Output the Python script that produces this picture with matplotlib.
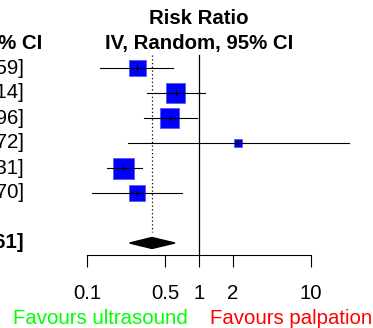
import numpy as np
import matplotlib
matplotlib.use('Agg')
import matplotlib.pyplot as plt

plt.rcParams['font.family'] = ['Liberation Sans', 'DejaVu Sans']

# study estimates (risk ratio, 95% CI) and weights (%)
est = [0.28, 0.62, 0.55, 2.23, 0.21, 0.28]
lower = [0.13, 0.34, 0.32, 0.23, 0.15, 0.11]
upper = [0.59, 1.14, 0.96, 21.72, 0.31, 0.70]
weight = [16.3, 20.4, 20.4, 3.6, 24.9, 14.4]

# random effects summary
sum_est = 0.38
sum_lower = 0.24
sum_upper = 0.61

ticks = [0.1, 0.5, 1, 2, 10]
tick_labels = ['0.1', '0.5', '1', '2', '10']
label_left = 'Favours ultrasound'
label_right = 'Favours palpation'

W, H, DPI = 373, 328, 100
FS = 14.7

fig = plt.figure(figsize=(W / DPI, H / DPI), dpi=DPI)
axis_px = 255
ax = fig.add_axes([0, (H - axis_px) / H, 1, axis_px / H])
ax.set_xscale('log')
# 0.1 -> 87 px, 10 -> 311 px
ppd = 112.0
x1 = 199.0
ax.set_xlim(10 ** ((0 - x1) / ppd), 10 ** ((W - x1) / ppd))
row0, rowh = 68.0, 25.0
ax.set_ylim((axis_px - row0) / rowh, -row0 / rowh)

n = len(est)
rows = np.arange(n)
sum_row = n + 1

# reference line and summary dotted line
ax.plot([1, 1], [-0.52, (axis_px - row0) / rowh], color='black', lw=0.9, zorder=1)
ax.plot([sum_est, sum_est], [-0.52, sum_row - 0.44], color='black', lw=0.9,
        ls=(0, (1, 2.0)), zorder=1)

# squares
k = 21.0 / np.sqrt(max(weight))
side_pt = [k * np.sqrt(w) * 72 / DPI for w in weight]
ax.scatter(est, rows, marker='s', s=np.array(side_pt) ** 2, color='#0000ff',
           edgecolor='#5a5ae6', linewidth=0.6, zorder=2)
for i in range(n):
    ax.plot([lower[i], upper[i]], [rows[i], rows[i]], color='black', lw=0.8, zorder=3)
ax.scatter(est, rows, marker='|', s=20, color='black', linewidth=0.7, zorder=4)

# diamond
ax.fill([sum_lower, sum_est, sum_upper, sum_est],
        [sum_row, sum_row - 0.22, sum_row, sum_row + 0.22], color='black', zorder=3)

# text columns (left column is cut off by the figure edge)
xv = 10 ** ((24 - x1) / ppd)
xh = 10 ** ((42 - x1) / ppd)
for i in range(n):
    ax.text(xv, rows[i], f'{est[i]:.2f} [{lower[i]:.2f}; {upper[i]:.2f}]',
            ha='right', va='center', fontsize=FS)
ax.text(xv, sum_row, f'{sum_est:.2f} [{sum_lower:.2f}; {sum_upper:.2f}]',
        ha='right', va='center', fontsize=FS, fontweight='bold')
ax.text(xh, -1, 'IV, Random, 95% CI', ha='right', va='center', fontsize=FS, fontweight='bold')
ax.text(1, -2, 'Risk Ratio', ha='center', va='center', fontsize=FS, fontweight='bold')
ax.text(1, -1, 'IV, Random, 95% CI', ha='center', va='center', fontsize=FS, fontweight='bold')

# x axis
for s in ['top', 'left', 'right']:
    ax.spines[s].set_visible(False)
ax.spines['bottom'].set_bounds(0.1, 10)
ax.spines['bottom'].set_linewidth(0.8)
ax.set_xticks(ticks)
ax.set_xticklabels(tick_labels, fontsize=FS)
ax.xaxis.set_minor_locator(matplotlib.ticker.NullLocator())
ax.tick_params(axis='x', length=8.6, width=0.8, pad=12)
ax.set_yticks([])
ax.patch.set_visible(False)

ax.annotate(label_left, xy=(1, 0), xycoords=('data', 'axes fraction'),
            xytext=(-8, -46), textcoords='offset points',
            ha='right', va='center', fontsize=FS, color='#00ff00')
ax.annotate(label_right, xy=(1, 0), xycoords=('data', 'axes fraction'),
            xytext=(8, -46), textcoords='offset points',
            ha='left', va='center', fontsize=FS, color='#ff0000')

fig.savefig('out.png', dpi=DPI)
